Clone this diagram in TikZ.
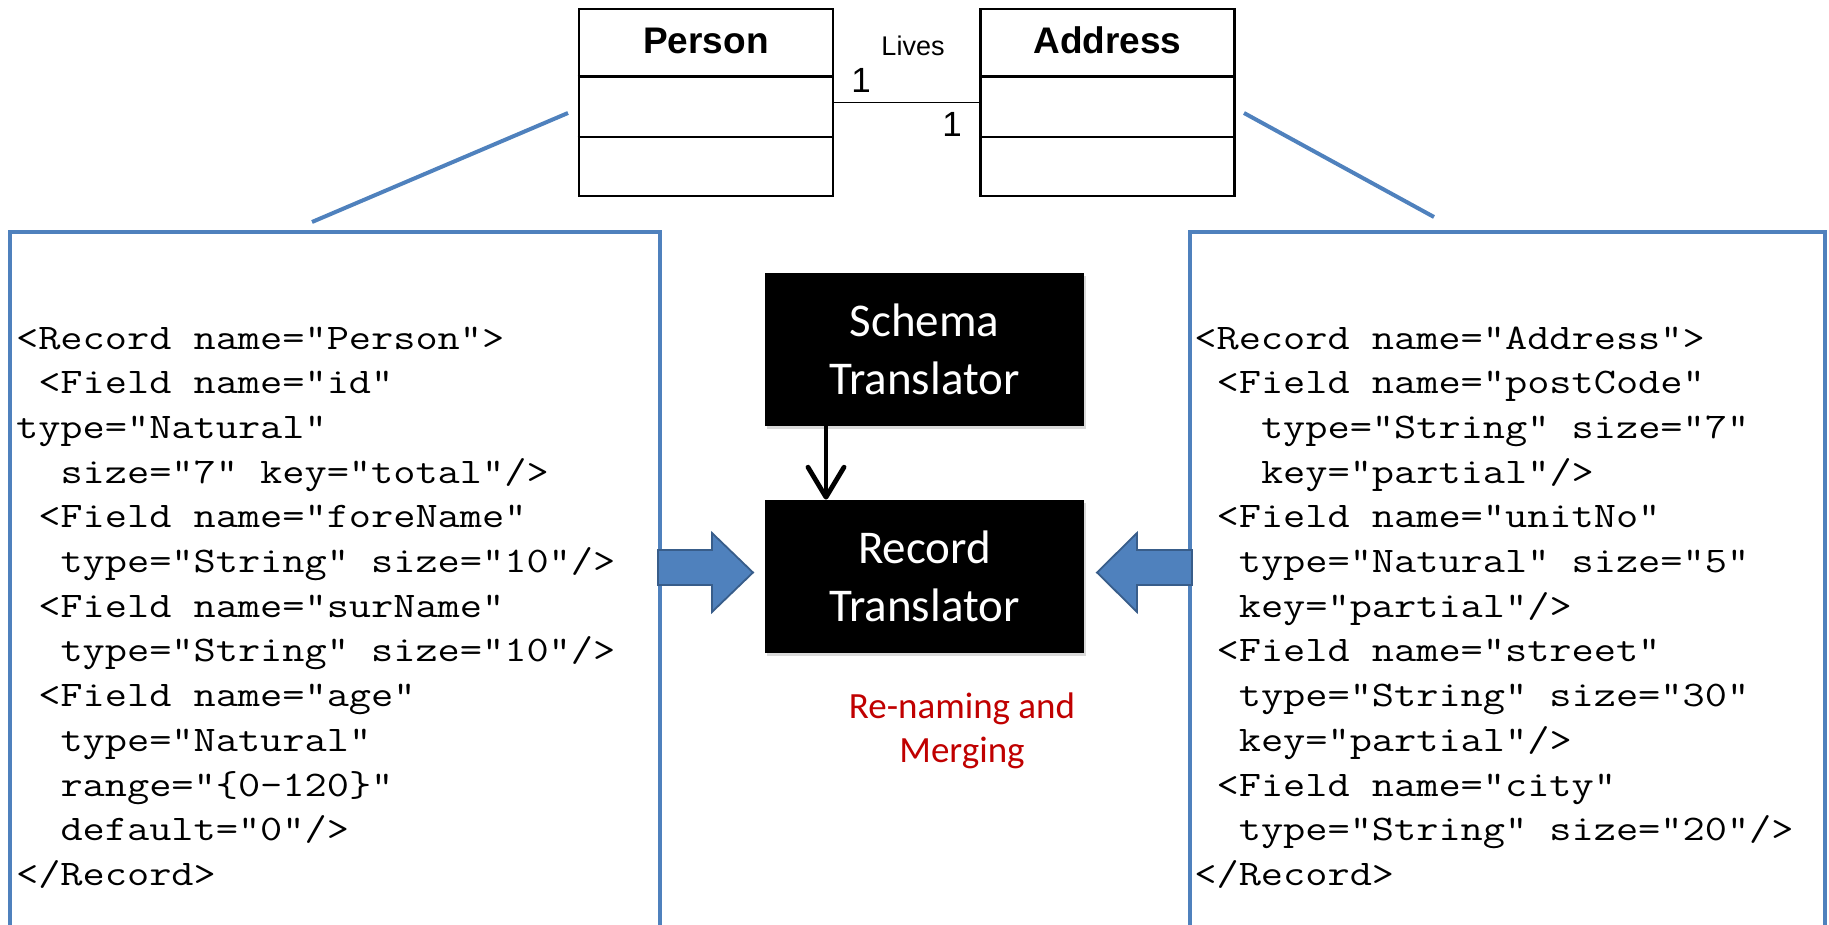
\documentclass[tikz,border=0pt]{standalone}
\usepackage{fontspec}
\newfontfamily\codefont{Latin Modern Mono}[FakeStretch=1.197]
\newfontfamily\arialfont{Liberation Sans}
\newfontfamily\califont{Carlito}
\usetikzlibrary{arrows.meta,shadows}
\definecolor{officeblue}{HTML}{4F81BD}
\definecolor{officeblueedge}{HTML}{385D8A}
\definecolor{notered}{HTML}{C00000}

\begin{document}
\begin{tikzpicture}[x=0.5pt,y=-0.5pt,
  umlbox/.style={draw=black, line width=1.35pt, minimum width=127pt,
    minimum height=93.5pt, inner sep=0pt},
  umlline/.style={draw=black, line width=1.35pt},
  umltitle/.style={font=\arialfont\bfseries\fontsize{18.5}{22}\selectfont,
    anchor=base, inner sep=0pt},
  multlabel/.style={font=\arialfont\fontsize{17.5}{21}\selectfont,
    anchor=base, inner sep=0pt},
  blueline/.style={draw=officeblue, line width=2pt},
  codetext/.style={font=\codefont\fontsize{18}{22}\selectfont,
    anchor=base west, inner sep=0pt},
  blackbox/.style={fill=black, text=white, minimum width=159.5pt,
    minimum height=76.5pt, align=center, inner sep=0pt,
    font=\califont\fontsize{23.5}{28.85}\selectfont,
    drop shadow={shadow xshift=1.2pt, shadow yshift=-1.5pt, opacity=0.3}},
  blockarrow/.style={fill=officeblue, draw=officeblueedge, line width=0.9pt},
]
\useasboundingbox (0,0) rectangle (1829,925);

% UML class boxes
\node[umlbox] (person) at (706,102.5) {};
\node[umlbox] (address) at (1107.5,102.5) {};
\foreach \b in {person,address}{
  \draw[umlline] (\b.west |- 0,76.5) -- (\b.east |- 0,76.5);
  \draw[umlline] (\b.west |- 0,137) -- (\b.east |- 0,137);
}
\node[umltitle] (ptitle) at (706,54) {Person};
\node[umltitle] (atitle) at (1107.5,54) {Address};

% association
\draw[line width=0.95pt] (person.east) -- (address.west);
\node[font=\arialfont\fontsize{13.5}{16}\selectfont, anchor=base, inner sep=0pt]
  (lives) at (913,56) {Lives};
\node[multlabel] (mleft) at (861,93) {1};
\node[multlabel] (mright) at (952,137) {1};

% leader lines to the record listings
\coordinate (pfrom) at (568,113);
\coordinate (pto) at (312,222);
\coordinate (afrom) at (1244,113);
\coordinate (ato) at (1434,217);
\draw[blueline] (pfrom) -- (pto);
\draw[blueline] (afrom) -- (ato);

% listing frames (open at the bottom)
\draw[blueline] (10,930) -- (10,232) -- (660,232) -- (660,930);
\draw[blueline] (1190,930) -- (1190,232) -- (1825,232) -- (1825,930);

% translators
\node[blackbox] (schema) at (924.5,349.5) {Schema\\Translator};
\node[blackbox] (record) at (924.5,576.5) {Record\\Translator};
\draw[line width=2.4pt, line cap=round, line join=round,
  -{Straight Barb[length=15pt,width=18pt,round]}]
  ([xshift=-49.25pt]schema.south) -- ([xshift=-49.25pt]record.north);

% block arrows into the record translator
\draw[blockarrow] (658,550) -- (712,550) -- (712,533) -- (753,572.5)
  -- (712,612) -- (712,585) -- (658,585) -- cycle;
\draw[blockarrow] (1192,550) -- (1137,550) -- (1137,533) -- (1097,572.5)
  -- (1137,612) -- (1137,585) -- (1192,585) -- cycle;

\node[font=\califont\fontsize{18.5}{22}\selectfont, text=notered, align=center,
  inner sep=0pt] (note) at (962,731) {Re-naming and\\Merging};

% Person record
\node[codetext] (p1) at (15.7,349) {<Record name="Person">};
\node[codetext] (p2) at (37.9,393.7) {<Field name="id"};
\node[codetext] (p3) at (15.7,438.4) {type="Natural"};
\node[codetext] (p4) at (60.1,483.1) {size="7" key="total"/>};
\node[codetext] (p5) at (37.9,527.8) {<Field name="foreName"};
\node[codetext] (p6) at (60.1,572.5) {type="String" size="10"/>};
\node[codetext] (p7) at (37.9,617.2) {<Field name="surName"};
\node[codetext] (p8) at (60.1,661.9) {type="String" size="10"/>};
\node[codetext] (p9) at (37.9,706.6) {<Field name="age"};
\node[codetext] (p10) at (60.1,751.3) {type="Natural"};
\node[codetext] (p11) at (60.1,796) {range="\{0-120\}"};
\node[codetext] (p12) at (60.1,840.7) {default=“0"/>};
\node[codetext] (p13) at (15.7,885.4) {</Record>};

% Address record
\node[codetext] (a1) at (1194,349) {<Record name="Address">};
\node[codetext] (a2) at (1216.2,393.7) {<Field name="postCode"};
\node[codetext] (a3) at (1260.6,438.4) {type="String" size="7"};
\node[codetext] (a4) at (1260.6,483.1) {key="partial"/>};
\node[codetext] (a5) at (1216.2,527.8) {<Field name="unitNo"};
\node[codetext] (a6) at (1238.4,572.5) {type="Natural" size="5"};
\node[codetext] (a7) at (1238.4,617.2) {key="partial"/>};
\node[codetext] (a8) at (1216.2,661.9) {<Field name="street"};
\node[codetext] (a9) at (1238.4,706.6) {type="String" size="30"};
\node[codetext] (a10) at (1238.4,751.3) {key="partial"/>};
\node[codetext] (a11) at (1216.2,796) {<Field name="city"};
\node[codetext] (a12) at (1238.4,840.7) {type="String" size="20"/>};
\node[codetext] (a13) at (1194,885.4) {</Record>};
\end{tikzpicture}
\end{document}
